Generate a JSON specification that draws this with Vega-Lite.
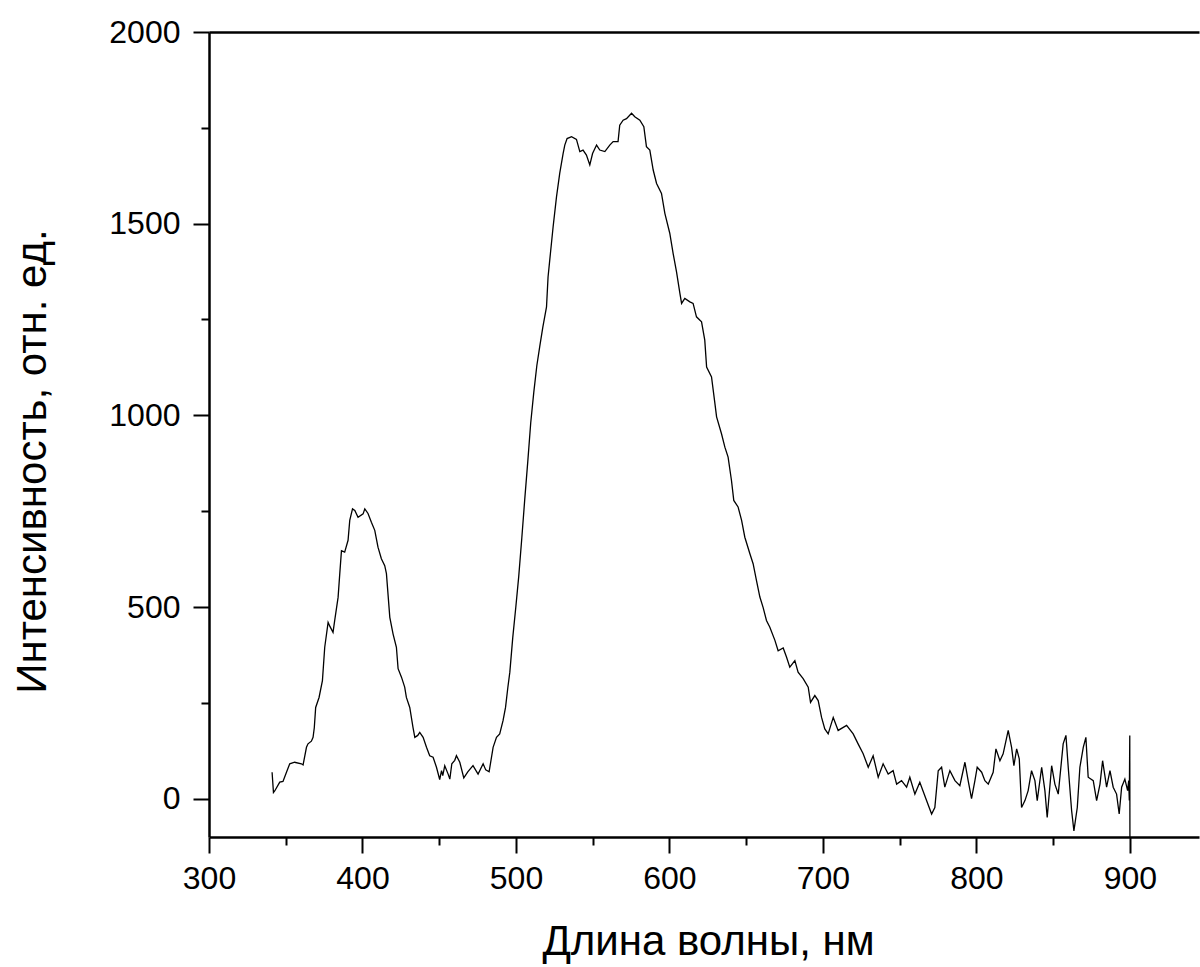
{
  "$schema": "https://vega.github.io/schema/vega-lite/v6.json",
  "width": 990,
  "height": 805,
  "autosize": {"type": "none"},
  "padding": {"left": 209, "top": 32, "right": 1, "bottom": 130},
  "background": "white",
  "config": {
    "view": {"stroke": null},
    "font": "Liberation Sans",
    "axis": {
      "grid": false,
      "domainColor": "black",
      "tickColor": "black",
      "labelColor": "black",
      "titleColor": "black",
      "domainWidth": 2.5,
      "tickWidth": 2,
      "labelFont": "Liberation Sans",
      "titleFont": "Liberation Sans",
      "titleFontWeight": "normal",
      "labelFlush": false,
      "labelOverlap": false
    }
  },
  "data": {
    "values": [
      {"wl": 341.1, "v": 69}, {"wl": 342.0, "v": 16}, {"wl": 342.8, "v": 20}, {"wl": 346.1, "v": 43},
      {"wl": 348.2, "v": 45}, {"wl": 350.6, "v": 70}, {"wl": 352.6, "v": 91}, {"wl": 355.8, "v": 95},
      {"wl": 360.2, "v": 91}, {"wl": 361.3, "v": 88}, {"wl": 363.5, "v": 134}, {"wl": 364.5, "v": 143},
      {"wl": 366.7, "v": 150}, {"wl": 367.8, "v": 160}, {"wl": 368.6, "v": 185}, {"wl": 369.5, "v": 238},
      {"wl": 371.7, "v": 264}, {"wl": 373.9, "v": 308}, {"wl": 375.4, "v": 395}, {"wl": 377.6, "v": 460},
      {"wl": 378.7, "v": 450}, {"wl": 380.8, "v": 434}, {"wl": 381.9, "v": 465}, {"wl": 384.1, "v": 525},
      {"wl": 385.2, "v": 587}, {"wl": 386.3, "v": 647}, {"wl": 388.4, "v": 643}, {"wl": 390.6, "v": 674},
      {"wl": 391.7, "v": 726}, {"wl": 393.5, "v": 756}, {"wl": 395.0, "v": 752}, {"wl": 397.1, "v": 734},
      {"wl": 400.4, "v": 743}, {"wl": 401.5, "v": 756}, {"wl": 403.6, "v": 744}, {"wl": 405.8, "v": 721},
      {"wl": 408.0, "v": 700}, {"wl": 410.1, "v": 656}, {"wl": 412.3, "v": 626}, {"wl": 414.5, "v": 608},
      {"wl": 415.6, "v": 587}, {"wl": 417.8, "v": 473}, {"wl": 419.9, "v": 430}, {"wl": 422.1, "v": 395},
      {"wl": 423.2, "v": 339}, {"wl": 425.4, "v": 317}, {"wl": 427.5, "v": 291}, {"wl": 428.6, "v": 264},
      {"wl": 430.8, "v": 238}, {"wl": 432.9, "v": 186}, {"wl": 434.1, "v": 160}, {"wl": 436.0, "v": 165},
      {"wl": 437.3, "v": 173}, {"wl": 439.5, "v": 160}, {"wl": 441.7, "v": 134}, {"wl": 443.8, "v": 112},
      {"wl": 446.0, "v": 108}, {"wl": 448.2, "v": 82}, {"wl": 450.3, "v": 50}, {"wl": 451.5, "v": 73},
      {"wl": 452.3, "v": 60}, {"wl": 453.6, "v": 86}, {"wl": 455.8, "v": 64}, {"wl": 456.9, "v": 51},
      {"wl": 458.2, "v": 91}, {"wl": 460.1, "v": 100}, {"wl": 461.2, "v": 112}, {"wl": 463.4, "v": 95},
      {"wl": 466.0, "v": 54}, {"wl": 468.6, "v": 70}, {"wl": 472.0, "v": 86}, {"wl": 475.3, "v": 64},
      {"wl": 478.6, "v": 91}, {"wl": 480.3, "v": 75}, {"wl": 482.5, "v": 70}, {"wl": 485.1, "v": 134},
      {"wl": 487.3, "v": 160}, {"wl": 489.4, "v": 169}, {"wl": 491.6, "v": 204}, {"wl": 493.2, "v": 238},
      {"wl": 494.7, "v": 290}, {"wl": 496.0, "v": 330}, {"wl": 497.9, "v": 420}, {"wl": 499.9, "v": 500},
      {"wl": 501.8, "v": 580}, {"wl": 503.8, "v": 680}, {"wl": 505.7, "v": 780}, {"wl": 507.7, "v": 880},
      {"wl": 509.6, "v": 980}, {"wl": 511.6, "v": 1060}, {"wl": 513.6, "v": 1130}, {"wl": 515.5, "v": 1180},
      {"wl": 517.5, "v": 1230}, {"wl": 519.9, "v": 1283}, {"wl": 520.9, "v": 1361}, {"wl": 522.0, "v": 1405},
      {"wl": 524.2, "v": 1492}, {"wl": 526.4, "v": 1570}, {"wl": 528.5, "v": 1631}, {"wl": 530.7, "v": 1683},
      {"wl": 531.8, "v": 1705}, {"wl": 533.3, "v": 1722}, {"wl": 536.2, "v": 1727}, {"wl": 539.4, "v": 1720},
      {"wl": 541.6, "v": 1688}, {"wl": 543.7, "v": 1692}, {"wl": 545.9, "v": 1679}, {"wl": 548.1, "v": 1653},
      {"wl": 549.9, "v": 1683}, {"wl": 552.5, "v": 1705}, {"wl": 554.6, "v": 1692}, {"wl": 557.9, "v": 1688},
      {"wl": 561.1, "v": 1705}, {"wl": 563.3, "v": 1714}, {"wl": 566.5, "v": 1714}, {"wl": 567.6, "v": 1757},
      {"wl": 569.8, "v": 1770}, {"wl": 572.0, "v": 1774}, {"wl": 575.3, "v": 1788}, {"wl": 577.4, "v": 1779},
      {"wl": 580.7, "v": 1770}, {"wl": 583.3, "v": 1753}, {"wl": 585.0, "v": 1701}, {"wl": 587.2, "v": 1692},
      {"wl": 589.4, "v": 1640}, {"wl": 591.6, "v": 1605}, {"wl": 594.8, "v": 1579}, {"wl": 597.0, "v": 1527},
      {"wl": 600.2, "v": 1475}, {"wl": 602.4, "v": 1422}, {"wl": 604.6, "v": 1374}, {"wl": 606.8, "v": 1318},
      {"wl": 607.9, "v": 1292}, {"wl": 610.0, "v": 1305}, {"wl": 613.3, "v": 1296}, {"wl": 615.4, "v": 1292},
      {"wl": 617.6, "v": 1257}, {"wl": 620.9, "v": 1244}, {"wl": 623.0, "v": 1196}, {"wl": 624.2, "v": 1126},
      {"wl": 627.4, "v": 1100}, {"wl": 629.6, "v": 1031}, {"wl": 630.7, "v": 996}, {"wl": 633.9, "v": 952},
      {"wl": 636.1, "v": 917}, {"wl": 638.2, "v": 891}, {"wl": 640.4, "v": 830}, {"wl": 641.9, "v": 778},
      {"wl": 644.7, "v": 761}, {"wl": 647.0, "v": 726}, {"wl": 649.1, "v": 682}, {"wl": 652.4, "v": 639},
      {"wl": 654.5, "v": 613}, {"wl": 656.7, "v": 569}, {"wl": 658.9, "v": 526}, {"wl": 661.0, "v": 499},
      {"wl": 663.2, "v": 465}, {"wl": 665.4, "v": 447}, {"wl": 668.7, "v": 413}, {"wl": 670.8, "v": 386},
      {"wl": 674.1, "v": 393}, {"wl": 676.3, "v": 369}, {"wl": 678.4, "v": 343}, {"wl": 681.7, "v": 360},
      {"wl": 683.8, "v": 330}, {"wl": 687.1, "v": 313}, {"wl": 690.4, "v": 291}, {"wl": 691.9, "v": 251},
      {"wl": 694.7, "v": 269}, {"wl": 696.9, "v": 256}, {"wl": 699.1, "v": 212}, {"wl": 701.2, "v": 182},
      {"wl": 703.4, "v": 169}, {"wl": 706.7, "v": 212}, {"wl": 709.9, "v": 178}, {"wl": 715.4, "v": 191},
      {"wl": 719.7, "v": 169}, {"wl": 722.9, "v": 143}, {"wl": 726.2, "v": 117}, {"wl": 729.5, "v": 82},
      {"wl": 732.7, "v": 112}, {"wl": 736.0, "v": 56}, {"wl": 739.2, "v": 91}, {"wl": 742.5, "v": 64},
      {"wl": 745.7, "v": 73}, {"wl": 748.0, "v": 38}, {"wl": 751.2, "v": 47}, {"wl": 754.5, "v": 30},
      {"wl": 756.6, "v": 56}, {"wl": 759.9, "v": 12}, {"wl": 763.1, "v": 43}, {"wl": 767.5, "v": -5},
      {"wl": 770.8, "v": -40}, {"wl": 772.9, "v": -23}, {"wl": 775.1, "v": 73}, {"wl": 777.3, "v": 82},
      {"wl": 779.4, "v": 30}, {"wl": 782.7, "v": 73}, {"wl": 786.0, "v": 47}, {"wl": 789.2, "v": 34},
      {"wl": 792.5, "v": 95}, {"wl": 794.6, "v": 47}, {"wl": 796.8, "v": 0}, {"wl": 799.0, "v": 47},
      {"wl": 800.5, "v": 82}, {"wl": 803.4, "v": 69}, {"wl": 805.5, "v": 47}, {"wl": 807.7, "v": 38},
      {"wl": 810.9, "v": 69}, {"wl": 812.7, "v": 130}, {"wl": 815.3, "v": 99}, {"wl": 817.4, "v": 117},
      {"wl": 820.7, "v": 178}, {"wl": 822.9, "v": 134}, {"wl": 824.4, "v": 86}, {"wl": 826.2, "v": 130},
      {"wl": 827.9, "v": 104}, {"wl": 829.4, "v": -23}, {"wl": 831.6, "v": -5}, {"wl": 833.7, "v": 21},
      {"wl": 835.9, "v": 73}, {"wl": 838.1, "v": 47}, {"wl": 839.6, "v": -5}, {"wl": 842.5, "v": 82},
      {"wl": 844.6, "v": 21}, {"wl": 846.1, "v": -49}, {"wl": 849.0, "v": 86}, {"wl": 851.1, "v": 38},
      {"wl": 853.3, "v": 12}, {"wl": 856.5, "v": 143}, {"wl": 858.3, "v": 165}, {"wl": 859.8, "v": 82},
      {"wl": 862.0, "v": -31}, {"wl": 863.5, "v": -84}, {"wl": 865.7, "v": -23}, {"wl": 867.4, "v": 82},
      {"wl": 869.6, "v": 134}, {"wl": 871.3, "v": 160}, {"wl": 872.8, "v": 56}, {"wl": 876.1, "v": 47},
      {"wl": 878.3, "v": -5}, {"wl": 880.5, "v": 38}, {"wl": 882.2, "v": 99}, {"wl": 884.8, "v": 30},
      {"wl": 887.0, "v": 73}, {"wl": 889.1, "v": 30}, {"wl": 891.3, "v": 12}, {"wl": 893.0, "v": -40},
      {"wl": 894.6, "v": 30}, {"wl": 896.7, "v": 51}, {"wl": 898.5, "v": 21}, {"wl": 899.2, "v": 47},
      {"wl": 899.6, "v": -5}, {"wl": 899.9, "v": 165}, {"wl": 900.0, "v": -100}
    ]
  },
  "layer": [
    {
      "mark": {"type": "line", "color": "black", "strokeWidth": 1.3, "clip": true},
      "encoding": {
        "x": {
          "field": "wl", "type": "quantitative",
          "scale": {"domain": [300, 945], "nice": false, "zero": false},
          "axis": {
            "orient": "bottom",
            "values": [300, 400, 500, 600, 700, 800, 900],
            "format": "d",
            "tickSize": 16,
            "labelFontSize": 32,
            "labelPadding": 10,
            "title": "Длина волны, нм",
            "titleFontSize": 42,
            "titleX": 499,
            "titleY": 117,
            "titleBaseline": "alphabetic"
          }
        },
        "y": {
          "field": "v", "type": "quantitative",
          "scale": {"domain": [-100, 2000], "nice": false, "zero": false},
          "axis": {
            "orient": "left",
            "values": [0, 500, 1000, 1500, 2000],
            "format": "d",
            "tickSize": 16,
            "labelFontSize": 32,
            "labelPadding": 13,
            "title": "Интенсивность, отн. ед.",
            "titleFontSize": 42,
            "titleX": -164,
            "titleY": 429,
            "titleBaseline": "alphabetic"
          }
        }
      }
    },
    {
      "mark": {"type": "line", "opacity": 0},
      "encoding": {
        "x": {
          "field": "wl", "type": "quantitative",
          "axis": {
            "orient": "bottom",
            "values": [350, 450, 550, 650, 750, 850],
            "tickSize": 8,
            "labels": false,
            "domain": false,
            "title": null
          }
        },
        "y": {
          "field": "v", "type": "quantitative",
          "axis": {
            "orient": "left",
            "values": [250, 750, 1250, 1750],
            "tickSize": 8,
            "labels": false,
            "domain": false,
            "title": null
          }
        }
      }
    },
    {
      "mark": {"type": "line", "opacity": 0},
      "encoding": {
        "x": {
          "field": "wl", "type": "quantitative",
          "axis": {
            "orient": "top",
            "ticks": false,
            "labels": false,
            "domain": true,
            "title": null
          }
        },
        "y": {"field": "v", "type": "quantitative", "axis": null}
      }
    }
  ],
  "resolve": {"axis": {"x": "independent", "y": "independent"}}
}
